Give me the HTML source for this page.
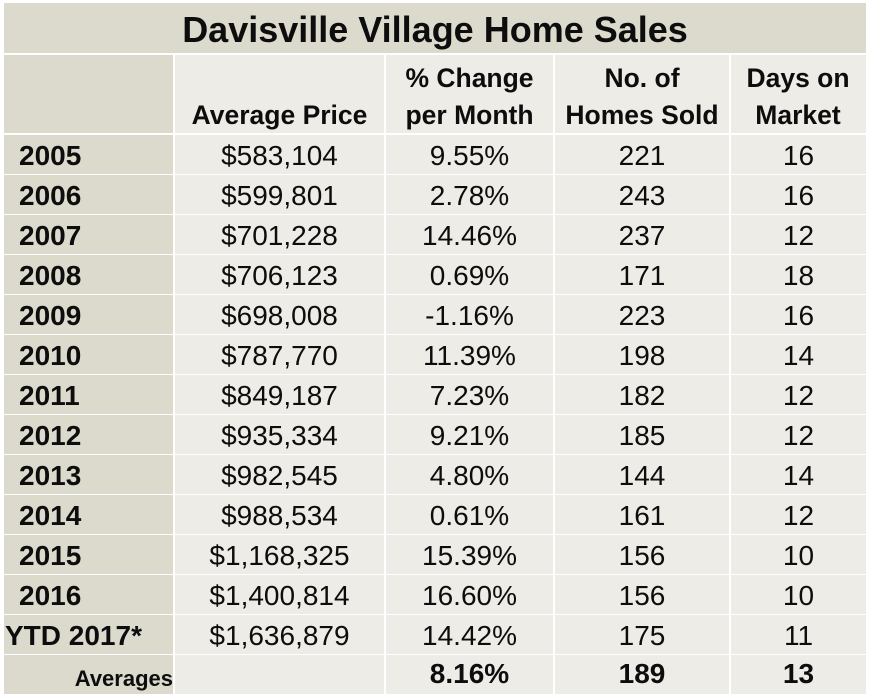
<!DOCTYPE html>
<html><head><meta charset="utf-8"><style>
html,body{margin:0;padding:0;background:#fff;}
#w{position:relative;width:869px;height:696px;overflow:hidden;background:#fff;font-family:"Liberation Sans",Arial,sans-serif;color:#0d0d0d;}
.c{position:absolute;}
.d{background:#dcdacd;}
.l{background:#edece6;}
.t{position:absolute;line-height:1;white-space:nowrap;text-align:center;}
.b{font-weight:bold;}
.r{position:absolute;left:0;width:869px;height:40px;}
.r>div{position:absolute;top:1px;height:39px;box-sizing:border-box;padding-top:7px;line-height:1;font-size:28px;white-space:nowrap;text-align:center;}
.r>.c0{left:4px;width:169px;background:#dcdacd;text-align:left;padding-left:15px;font-weight:bold;}
.r>.c1{left:175px;width:209px;background:#edece6;}
.r>.c2{left:386px;width:167px;background:#edece6;}
.r>.c3{left:555px;width:174px;background:#edece6;}
.r>.c4{left:731px;width:135px;background:#edece6;}
</style></head><body><div id="w">
<div class="c d" style="left:4px;top:3px;width:862px;height:50px;"></div>
<div class="t b" style="left:4px;width:862px;top:12px;font-size:36px;">Davisville Village Home Sales</div>
<div class="c d" style="left:4px;top:55px;width:169px;height:78px;"></div>
<div class="c l" style="left:175px;top:55px;width:209px;height:78px;"></div>
<div class="c l" style="left:386px;top:55px;width:167px;height:78px;"></div>
<div class="c l" style="left:555px;top:55px;width:174px;height:78px;"></div>
<div class="c l" style="left:731px;top:55px;width:135px;height:78px;"></div>
<div class="t b" style="left:174px;width:211px;top:102px;font-size:26.5px;">Average Price</div>
<div class="t b" style="left:385px;width:169px;top:65px;font-size:26.5px;">% Change</div>
<div class="t b" style="left:385px;width:169px;top:102px;font-size:26.5px;">per Month</div>
<div class="t b" style="left:554px;width:176px;top:65px;font-size:26.5px;">No. of</div>
<div class="t b" style="left:554px;width:176px;top:102px;font-size:26.5px;">Homes Sold</div>
<div class="t b" style="left:730px;width:136px;top:65px;font-size:26.5px;">Days on</div>
<div class="t b" style="left:730px;width:136px;top:102px;font-size:26.5px;">Market</div>

<div class="r" style="top:134px;"><div class="c0">2005</div><div class="c1">$583,104</div><div class="c2">9.55%</div><div class="c3">221</div><div class="c4">16</div></div>
<div class="r" style="top:174px;"><div class="c0">2006</div><div class="c1">$599,801</div><div class="c2">2.78%</div><div class="c3">243</div><div class="c4">16</div></div>
<div class="r" style="top:214px;"><div class="c0">2007</div><div class="c1">$701,228</div><div class="c2">14.46%</div><div class="c3">237</div><div class="c4">12</div></div>
<div class="r" style="top:254px;"><div class="c0">2008</div><div class="c1">$706,123</div><div class="c2">0.69%</div><div class="c3">171</div><div class="c4">18</div></div>
<div class="r" style="top:294px;"><div class="c0">2009</div><div class="c1">$698,008</div><div class="c2">-1.16%</div><div class="c3">223</div><div class="c4">16</div></div>
<div class="r" style="top:334px;"><div class="c0">2010</div><div class="c1">$787,770</div><div class="c2">11.39%</div><div class="c3">198</div><div class="c4">14</div></div>
<div class="r" style="top:374px;"><div class="c0">2011</div><div class="c1">$849,187</div><div class="c2">7.23%</div><div class="c3">182</div><div class="c4">12</div></div>
<div class="r" style="top:414px;"><div class="c0">2012</div><div class="c1">$935,334</div><div class="c2">9.21%</div><div class="c3">185</div><div class="c4">12</div></div>
<div class="r" style="top:454px;"><div class="c0">2013</div><div class="c1">$982,545</div><div class="c2">4.80%</div><div class="c3">144</div><div class="c4">14</div></div>
<div class="r" style="top:494px;"><div class="c0">2014</div><div class="c1">$988,534</div><div class="c2">0.61%</div><div class="c3">161</div><div class="c4">12</div></div>
<div class="r" style="top:534px;"><div class="c0">2015</div><div class="c1">$1,168,325</div><div class="c2">15.39%</div><div class="c3">156</div><div class="c4">10</div></div>
<div class="r" style="top:574px;"><div class="c0">2016</div><div class="c1">$1,400,814</div><div class="c2">16.60%</div><div class="c3">156</div><div class="c4">10</div></div>
<div class="r" style="top:614px;"><div class="c0" style="padding-left:1px;">YTD 2017*</div><div class="c1">$1,636,879</div><div class="c2">14.42%</div><div class="c3">175</div><div class="c4">11</div></div>
<div class="r" style="top:654px;"><div class="c0" style="text-align:right;padding-left:0;padding-right:0;padding-top:13px;font-size:22px;">Averages</div><div class="c1"></div><div class="c2" style="font-weight:bold;padding-top:5px;">8.16%</div><div class="c3" style="font-weight:bold;padding-top:5px;">189</div><div class="c4" style="font-weight:bold;padding-top:5px;">13</div></div>
</div></body></html>
